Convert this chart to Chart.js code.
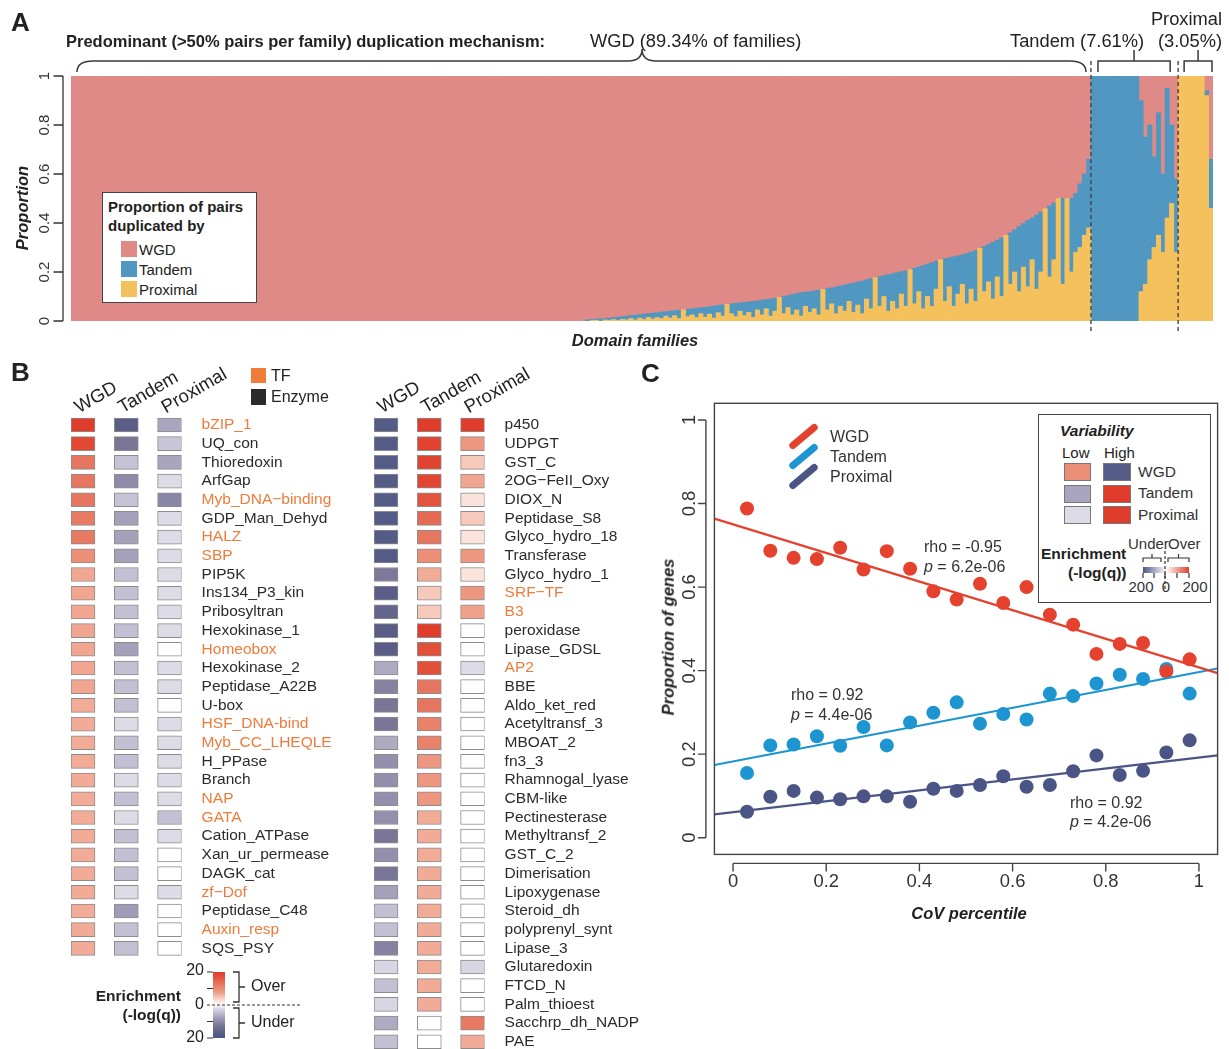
<!DOCTYPE html>
<html lang="en">
<head>
<meta charset="utf-8">
<title>Duplication mechanisms of domain families</title>
<script src="https://cdn.jsdelivr.net/npm/chart.js@4.4.1/dist/chart.umd.min.js"></script>
<style>
  html, body { margin: 0; padding: 0; background: #fff; }
  body { position: relative; width: 1229px; height: 1049px; overflow: hidden;
         font-family: "Liberation Sans", Arial, Helvetica, sans-serif; color: #222; }
  canvas { position: absolute; }
  .txt { position: absolute; white-space: nowrap; line-height: 1; }
  .box { position: absolute; box-sizing: border-box; }
  svg.overlay { position: absolute; left: 0; top: 0; pointer-events: none; }
</style>
</head>
<body>
<canvas id="chartA" width="1229" height="350" style="left:0px;top:0px"></canvas>
<canvas id="heatLeft" width="360" height="648" style="left:0px;top:340px"></canvas>
<canvas id="heatRight" width="380" height="742" style="left:360px;top:340px"></canvas>
<canvas id="chartC" width="589" height="560" style="left:640px;top:380px"></canvas>
<div id="notes"></div>
<svg class="overlay" width="1229" height="1049" fill="none" stroke="#333" stroke-width="1.2">
  <!-- panel B enrichment key -->
  <path d="M207,972H213 M207,988.5H213 M207,1021.5H213 M207,1038H213"/>
  <path d="M233,972H239V1002H233 M239,987H245 M233,1008H239V1038H233 M239,1023H245" stroke-width="1.3"/>
  <path d="M207,1005H300" stroke-dasharray="3,2"/>
  <!-- panel C enrichment key -->
  <path d="M1143,562V558H1161V562 M1152,558V554 M1168,562V558H1189V562 M1178.5,558V554"/>
  <path d="M1143,573V578 M1154,573V578 M1165,573V578 M1177,573V578 M1189,573V578"/>
  <path d="M1165,551V592" stroke-dasharray="3,2"/>
</svg>
<script>
// ---------------- Panel A: share of duplicated pairs per domain family ----------------
const mechanisms = ['WGD', 'Tandem', 'Proximal'];
// families grouped by predominant mechanism (WGD, Tandem, Proximal)
const familiesPerMechanism = [234, 20, 8];
const proportionTicks = [0, 0.2, 0.4, 0.6, 0.8, 1];
const proportionTickLabels = ['0', '0.2', '0.4', '0.6', '0.8', '1'];

const wgdShare = [
  1,1,1,1,1,1,1,1,1,1, 1,1,1,1,1,1,1,1,1,1, 1,1,1,1,1,1,1,1,1,1,
  1,1,1,1,1,1,1,1,1,1, 1,1,1,1,1,1,1,1,1,1, 1,1,1,1,1,1,1,1,1,1,
  1,1,1,1,1,1,1,1,1,1, 1,1,1,1,1,1,1,1,1,1, 1,1,1,1,1,1,1,1,1,1,
  1,1,1,1,1,1,1,1,1,1, 1,1,1,1,1,1,1,1,1,1, 1,1,1,1,1,1,1,1,
  .995,.994,.992,.991,.990,.988,.986,.984,.982,.980,
  .978,.976,.974,.972,.970,.968,.966,.964,.962,.960,
  .958,.956,.954,.952,.950,.948,.946,.944,.942,.939,
  .936,.934,.932,.930,.928,.926,.924,.922,.920,.918,
  .915,.912,.910,.907,.904,.900,.896,.892,.888,.884,
  .882,.880,.877,.874,.871,.868,.865,.861,.857,.853,
  .849,.845,.841,.837,.832,.827,.823,.819,.815,.811,
  .807,.803,.799,.795,.790,.785,.780,.774,.768,.762,
  .756,.750,.746,.742,.738,.734,.730,.725,.719,.712,
  .704,.696,.688,.679,.670,.660,.650,.640,.628,.615,
  .602,.590,.580,.568,.555,.542,.530,.518,.500,.500,
  .500,.500,.480,.440,.400,.340,
  0,0,0,0,0,0,0,0,0,0,0,
  .10,.25,.20,.33,.15,.40,.05,.20,.42,
  0,0,0,0,0,0,.06,.34
];
const tandemShare = [
  0,0,0,0,0,0,0,0,0,0, 0,0,0,0,0,0,0,0,0,0, 0,0,0,0,0,0,0,0,0,0,
  0,0,0,0,0,0,0,0,0,0, 0,0,0,0,0,0,0,0,0,0, 0,0,0,0,0,0,0,0,0,0,
  0,0,0,0,0,0,0,0,0,0, 0,0,0,0,0,0,0,0,0,0, 0,0,0,0,0,0,0,0,0,0,
  0,0,0,0,0,0,0,0,0,0, 0,0,0,0,0,0,0,0,0,0, 0,0,0,0,0,0,0,0,
  .005,.004,.005,.009,.006,.009,.008,.014,.011,.015,
  .012,.020,.014,.022,.015,.024,.020,.026,.018,.028,
  .020,.034,0,.030,.025,.038,.024,.040,.030,.049,
  .030,.046,0,.040,.054,.034,.054,.043,.065,.037,
  .060,.038,.070,.053,0,.070,.049,.083,.067,.096,
  .058,.085,.073,.101,0,.087,.065,.109,.083,.107,
  .071,.120,.094,.133,.078,.123,0,.121,.085,.149,
  .113,.147,.091,.145,0,.145,.100,.176,.132,.178,
  .114,0,.174,.118,.202,.156,.120,.205,.151,.208,
  0,.184,.152,.231,.150,.240,0,.210,.172,.265,
  .178,.270,.170,.302,.245,0,.290,.232,0,.350,
  0,.300,.240,.260,.250,.280,
  1,1,1,1,1,1,1,1,1,1,1,
  .78,.60,.55,.37,.50,.32,.53,.32,.30,
  0,0,0,0,0,0,.02,.20
];
const proximalShare = [
  0,0,0,0,0,0,0,0,0,0, 0,0,0,0,0,0,0,0,0,0, 0,0,0,0,0,0,0,0,0,0,
  0,0,0,0,0,0,0,0,0,0, 0,0,0,0,0,0,0,0,0,0, 0,0,0,0,0,0,0,0,0,0,
  0,0,0,0,0,0,0,0,0,0, 0,0,0,0,0,0,0,0,0,0, 0,0,0,0,0,0,0,0,0,0,
  0,0,0,0,0,0,0,0,0,0, 0,0,0,0,0,0,0,0,0,0, 0,0,0,0,0,0,0,0,
  0,.002,.003,0,.004,.003,.006,.002,.007,.005,
  .010,.004,.012,.006,.015,.008,.014,.010,.020,.012,
  .022,.010,.046,.018,.025,.014,.030,.016,.028,.012,
  .034,.020,.068,.030,.018,.040,.022,.035,.015,.045,
  .025,.050,.020,.040,.096,.030,.055,.025,.045,.020,
  .060,.035,.050,.025,.129,.045,.070,.030,.060,.040,
  .080,.035,.065,.030,.090,.050,.177,.060,.100,.040,
  .080,.050,.110,.060,.210,.070,.120,.050,.100,.060,
  .130,.250,.080,.140,.060,.110,.150,.070,.130,.080,
  .296,.120,.160,.090,.180,.100,.350,.150,.200,.120,
  .220,.140,.250,.130,.200,.458,.180,.250,.500,.150,
  .500,.200,.280,.300,.350,.380,
  0,0,0,0,0,0,0,0,0,0,0,
  .12,.15,.25,.30,.35,.28,.42,.48,.28,
  1,1,1,1,1,1,.92,.46
];

// ---------------- Panel B: enrichment (-log q, signed) per family ----------------
const leftFamilies = ['bZIP_1','UQ_con','Thioredoxin','ArfGap','Myb_DNA\u2212binding','GDP_Man_Dehyd','HALZ','SBP',
  'PIP5K','Ins134_P3_kin','Pribosyltran','Hexokinase_1','Homeobox','Hexokinase_2','Peptidase_A22B','U-box',
  'HSF_DNA-bind','Myb_CC_LHEQLE','H_PPase','Branch','NAP','GATA','Cation_ATPase','Xan_ur_permease','DAGK_cat',
  'zf\u2212Dof','Peptidase_C48','Auxin_resp','SQS_PSY'];
const leftWGD      = [20,18,12.5,12.5,12.5,12,12,9.5,7,7,7,7,7,7,7,6.5,6.5,6.5,6.5,6.5,6.5,6.5,6.5,6.5,6.5,6.5,6.5,6.5,6.5];
const leftTandem   = [-17,-12.5,-4.2,-10,-4.2,-7.5,-7.5,-7.5,-4.5,-4.5,-4.5,-4.5,-7.5,-4.5,-4.5,-4.5,-2,-4.5,-4.5,-2,-4.5,-2,-4.5,-4.5,-4.5,-2,-8,-4.5,-4.5];
const leftProximal = [-7,-4,-7,-2,-10.5,-2,-2,-2,-2,-2,-2,-2,0,-2,-2,0,-2,-2,-2,-2,-2,-4.5,-2,0,0,-2,0,0,0];

const rightFamilies = ['p450','UDPGT','GST_C','2OG\u2212FeII_Oxy','DIOX_N','Peptidase_S8','Glyco_hydro_18','Transferase',
  'Glyco_hydro_1','SRF\u2212TF','B3','peroxidase','Lipase_GDSL','AP2','BBE','Aldo_ket_red','Acetyltransf_3','MBOAT_2',
  'fn3_3','Rhamnogal_lyase','CBM-like','Pectinesterase','Methyltransf_2','GST_C_2','Dimerisation','Lipoxygenase',
  'Steroid_dh','polyprenyl_synt','Lipase_3','Glutaredoxin','FTCD_N','Palm_thioest','Sacchrp_dh_NADP','PAE'];
const rightWGD      = [-18,-18,-18,-18,-18,-18,-18,-18,-12,-17,-15.5,-17,-17,-6.5,-11,-12.5,-12.5,-6.5,-9.5,-9.5,-9.5,-9.5,-12.5,-9.5,-12.5,-7.5,-4.5,-4.5,-11,-2.5,-4.5,-2.5,-6.5,-4.5];
const rightTandem   = [20,19,19,18.5,16.5,14,12.5,9.5,6.5,4.5,4.5,20,17,17,12.5,12.5,11,11,8.5,8.5,8.5,6.5,6.5,6.5,6.5,6.5,6.5,6.5,6.5,6.5,6.5,6.5,0,0];
const rightProximal = [20,8.5,4.5,7,2.5,4.5,2.5,8.5,2.5,8.5,7.5,0,0,-2,0,0,0,0,0,0,0,0,0,0,0,0,0,0,0,-2.5,0,0,12,6.5];

const transcriptionFactors = ['bZIP_1','Myb_DNA\u2212binding','HALZ','SBP','Homeobox','HSF_DNA-bind','Myb_CC_LHEQLE',
  'NAP','GATA','zf\u2212Dof','Auxin_resp','SRF\u2212TF','B3','AP2'];

// ---------------- Panel C: proportion of genes per CoV percentile bin ----------------
const covPercentile = [0.03,0.08,0.13,0.18,0.23,0.28,0.33,0.38,0.43,0.48,0.53,0.58,0.63,0.68,0.73,0.78,0.83,0.88,0.93,0.98];
const wgdProp      = [.788,.687,.670,.667,.694,.642,.686,.644,.590,.570,.608,.562,.600,.534,.510,.440,.464,.466,.398,.427];
const tandemProp   = [.155,.221,.223,.243,.220,.265,.221,.276,.299,.324,.273,.296,.283,.345,.339,.369,.390,.380,.404,.345];
const proximalProp = [.062,.098,.112,.096,.092,.099,.099,.086,.117,.112,.126,.147,.122,.126,.159,.197,.150,.160,.204,.233];
// fitted trend lines, evaluated at the plot's x limits
const fitX = [-0.04, 1.04];
const wgdFit = [0.764, 0.394];
const tandemFit = [0.174, 0.405];
const proximalFit = [0.056, 0.197];
const cTicks = [0, 0.2, 0.4, 0.6, 0.8, 1];
const cTickLabels = ['0', '0.2', '0.4', '0.6', '0.8', '1'];

// ---------------- styling ----------------
const FONT = '"Liberation Sans", Arial, Helvetica, sans-serif';
Chart.defaults.font.family = FONT;
const SHARE_COLORS = { wgd: '#E08A87', tandem: '#5097C1', proximal: '#F4C15C' };
const TREND_COLORS = { wgd: '#E5412F', tandem: '#1C95D0', proximal: '#4A5585' };
const ORANGE = '#EF7B3B';
const overStops  = [[0,'#ffffff'],[0.125,'#fae3da'],[0.225,'#f6c9ba'],[0.325,'#f1ab96'],[0.425,'#ed9780'],[0.625,'#e6765f'],[0.85,'#e2503a'],[1,'#df3c2b']];
const underStops = [[0,'#ffffff'],[0.1,'#dddbe6'],[0.225,'#c4c0d4'],[0.35,'#a9a5be'],[0.5,'#8f8aa9'],[0.625,'#787596'],[0.85,'#595d87'],[1,'#4b5787']];

function hexRgb(h) { return [1,3,5].map(i => parseInt(h.slice(i, i + 2), 16)); }
function enrichColor(v) {
  const stops = v >= 0 ? overStops : underStops;
  const t = Math.min(Math.abs(v) / 20, 1);
  for (let i = 1; i < stops.length; i++) {
    if (t <= stops[i][0]) {
      const [t0, c0] = stops[i - 1], [t1, c1] = stops[i];
      const f = (t - t0) / (t1 - t0);
      const a = hexRgb(c0), b = hexRgb(c1);
      return 'rgb(' + a.map((c, k) => Math.round(c + (b[k] - c) * f)).join(',') + ')';
    }
  }
  return stops[stops.length - 1][1];
}

// ---------------- Panel A chart ----------------
function brace(ctx, x0, x1, tipX, yLine, yEnd, yTip) {
  const r = 16, rt = 14;
  ctx.beginPath();
  ctx.moveTo(x0, yEnd);
  ctx.quadraticCurveTo(x0, yLine, x0 + r, yLine);
  ctx.lineTo(tipX - rt, yLine);
  ctx.quadraticCurveTo(tipX, yLine, tipX, yTip);
  ctx.quadraticCurveTo(tipX, yLine, tipX + rt, yLine);
  ctx.lineTo(x1 - r, yLine);
  ctx.quadraticCurveTo(x1, yLine, x1, yEnd);
  ctx.stroke();
}
function bracket(ctx, x0, x1, yLine, yEnd, yTip) {
  const mid = (x0 + x1) / 2;
  ctx.beginPath();
  ctx.moveTo(x0, yEnd); ctx.lineTo(x0, yLine); ctx.lineTo(x1, yLine); ctx.lineTo(x1, yEnd);
  ctx.moveTo(mid, yLine); ctx.lineTo(mid, yTip);
  ctx.stroke();
}

const panelAFrame = {
  id: 'panelAFrame',
  afterDraw(chart) {
    const { ctx, chartArea: a, scales: { x, y } } = chart;
    const barW = (a.right - a.left) / chart.data.labels.length;
    ctx.save();
    // y axis, drawn a little off the bars
    const ax = a.left - 8;
    ctx.strokeStyle = '#333'; ctx.lineWidth = 1.3;
    ctx.beginPath();
    ctx.moveTo(ax, y.getPixelForValue(proportionTicks[0]));
    ctx.lineTo(ax, y.getPixelForValue(proportionTicks[proportionTicks.length - 1]));
    y.ticks.forEach(t => { const py = y.getPixelForValue(t.value); ctx.moveTo(ax, py); ctx.lineTo(ax - 9.5, py); });
    ctx.stroke();
    ctx.fillStyle = '#333'; ctx.font = '15px ' + FONT; ctx.textAlign = 'center'; ctx.textBaseline = 'middle';
    y.ticks.forEach((t, i) => {
      ctx.save(); ctx.translate(ax - 18.5, y.getPixelForValue(t.value)); ctx.rotate(-Math.PI / 2);
      ctx.fillText(proportionTickLabels[i], 0, 0); ctx.restore();
    });
    // group edges along the family axis
    const edges = [x.getPixelForValue(0) - barW / 2];
    let n = 0;
    familiesPerMechanism.forEach(c => { n += c; edges.push(x.getPixelForValue(n - 1) + barW / 2); });
    ctx.setLineDash([4, 3]); ctx.strokeStyle = '#444'; ctx.lineWidth = 1.4;
    ctx.beginPath();
    [edges[1], edges[2]].forEach(px => { ctx.moveTo(px, 61); ctx.lineTo(px, 333); });
    ctx.stroke();
    ctx.setLineDash([]);
    ctx.strokeStyle = '#3a3a3a'; ctx.lineWidth = 1.5;
    const b0 = edges[0] + 6, b1 = edges[1] - 5;
    brace(ctx, b0, b1, b0 + 0.56 * (b1 - b0), 61, 72, 49);
    bracket(ctx, edges[1] + 7, edges[2] - 8, 61, 72, 50);
    bracket(ctx, edges[2] + 6, edges[3] - 1, 61, 72, 50);
    ctx.restore();
  }
};

new Chart(document.getElementById('chartA'), {
  type: 'bar',
  data: {
    labels: wgdShare.map((_, i) => i + 1),
    datasets: [
      { label: 'Proximal', data: proximalShare, backgroundColor: SHARE_COLORS.proximal },
      { label: 'Tandem', data: tandemShare, backgroundColor: SHARE_COLORS.tandem },
      { label: 'WGD', data: wgdShare, backgroundColor: SHARE_COLORS.wgd }
    ]
  },
  options: {
    responsive: false, animation: false,
    layout: { padding: { left: 71, right: 16, top: 76, bottom: 29 } },
    datasets: { bar: { barPercentage: 1, categoryPercentage: 1, borderWidth: 0,
                       inflateAmount: c => (c.raw ? 0.35 : 0) } },
    plugins: { legend: { display: false }, tooltip: { enabled: false } },
    scales: {
      x: { stacked: true, display: false },
      y: { stacked: true, display: false, min: 0, max: 1,
           afterBuildTicks: s => { s.ticks = proportionTicks.map(v => ({ value: v })); } }
    }
  },
  plugins: [panelAFrame]
});

// ---------------- Panel B heatmaps ----------------
const CELL_W = 24 / 43.3;   // cell width in column units
function heatmap(canvasId, families, columns, padLeft, yAxisWidth, padBottom) {
  new Chart(document.getElementById(canvasId), {
    type: 'bar',
    data: {
      labels: families,
      datasets: columns.map((vals, k) => ({
        label: mechanisms[k],
        data: vals.map(() => [k, k + CELL_W]),
        backgroundColor: vals.map(enrichColor),
        borderColor: '#8c8c8c', borderWidth: 1, borderSkipped: false,
        barThickness: 14, grouped: false
      }))
    },
    options: {
      indexAxis: 'y', responsive: false, animation: false,
      layout: { padding: { left: padLeft, right: 0, top: 0, bottom: padBottom } },
      plugins: { legend: { display: false }, tooltip: { enabled: false } },
      scales: {
        x: {
          type: 'linear', position: 'top', min: 0, max: 2 + CELL_W,
          grid: { display: false, drawTicks: false }, border: { display: false },
          afterBuildTicks: s => { s.ticks = mechanisms.map((m, k) => ({ value: k + 0.385 })); },
          ticks: { callback: (v, i) => mechanisms[i], minRotation: 30, maxRotation: 30, autoSkip: false,
                   padding: -3, color: '#222', font: { size: 18.5 } },
          afterFit: s => { s.height = 75.65; }
        },
        y: {
          type: 'category', position: 'right', offset: true,
          grid: { display: false, drawTicks: false }, border: { display: false },
          ticks: { autoSkip: false, padding: 20, font: { size: 15.5 },
                   color: c => (transcriptionFactors.includes(families[c.index]) ? ORANGE : '#2b2b2b') },
          afterFit: s => { s.width = yAxisWidth; }
        }
      }
    }
  });
}
heatmap('heatLeft', leftFamilies, [leftWGD, leftTandem, leftProximal], 71, 360 - 181.6, 648 - 617.7);
heatmap('heatRight', rightFamilies, [rightWGD, rightTandem, rightProximal], 14, 740 - 484.6, 742 - 711.1);

// ---------------- Panel C chart ----------------
const panelCFrame = {
  id: 'panelCFrame',
  afterDraw(chart) {
    const { ctx, chartArea: a, scales: { x, y } } = chart;
    ctx.save();
    ctx.strokeStyle = '#444'; ctx.lineWidth = 1.4;
    ctx.strokeRect(a.left, a.top, a.right - a.left, a.bottom - a.top);
    const ax = a.left - 8.5, ay = a.bottom + 9;
    ctx.beginPath();
    ctx.moveTo(ax, y.getPixelForValue(cTicks[0])); ctx.lineTo(ax, y.getPixelForValue(cTicks[cTicks.length - 1]));
    y.ticks.forEach(t => { const py = y.getPixelForValue(t.value); ctx.moveTo(ax, py); ctx.lineTo(ax - 8, py); });
    ctx.moveTo(x.getPixelForValue(cTicks[0]), ay); ctx.lineTo(x.getPixelForValue(cTicks[cTicks.length - 1]), ay);
    x.ticks.forEach(t => { const px = x.getPixelForValue(t.value); ctx.moveTo(px, ay); ctx.lineTo(px, ay + 8); });
    ctx.stroke();
    ctx.fillStyle = '#333'; ctx.font = '18.4px ' + FONT; ctx.textAlign = 'center'; ctx.textBaseline = 'middle';
    y.ticks.forEach((t, i) => {
      ctx.save(); ctx.translate(ax - 16, y.getPixelForValue(t.value)); ctx.rotate(-Math.PI / 2);
      ctx.fillText(cTickLabels[i], 0, 0); ctx.restore();
    });
    x.ticks.forEach((t, i) => ctx.fillText(cTickLabels[i], x.getPixelForValue(t.value), ay + 19));
    ctx.restore();
  }
};
const pts = ys => covPercentile.map((x, i) => ({ x, y: ys[i] }));
const fitLine = ys => fitX.map((x, i) => ({ x, y: ys[i] }));
new Chart(document.getElementById('chartC'), {
  type: 'scatter',
  data: {
    datasets: [
      { type: 'line', data: fitLine(wgdFit), borderColor: TREND_COLORS.wgd, borderWidth: 2.2, pointRadius: 0, order: 1 },
      { type: 'line', data: fitLine(tandemFit), borderColor: TREND_COLORS.tandem, borderWidth: 2.2, pointRadius: 0, order: 1 },
      { type: 'line', data: fitLine(proximalFit), borderColor: TREND_COLORS.proximal, borderWidth: 2.2, pointRadius: 0, order: 1 },
      { label: 'WGD', data: pts(wgdProp), backgroundColor: TREND_COLORS.wgd, pointRadius: 7, borderWidth: 0, order: 2 },
      { label: 'Tandem', data: pts(tandemProp), backgroundColor: TREND_COLORS.tandem, pointRadius: 7, borderWidth: 0, order: 2 },
      { label: 'Proximal', data: pts(proximalProp), backgroundColor: TREND_COLORS.proximal, pointRadius: 7, borderWidth: 0, order: 2 }
    ]
  },
  options: {
    responsive: false, animation: false,
    layout: { padding: { left: 74.4, right: 11.4, top: 23.3, bottom: 85.6 } },
    plugins: { legend: { display: false }, tooltip: { enabled: false } },
    scales: {
      x: { type: 'linear', display: false, min: -0.04, max: 1.04,
           afterBuildTicks: s => { s.ticks = cTicks.map(v => ({ value: v })); } },
      y: { type: 'linear', display: false, min: -0.04, max: 1.04,
           afterBuildTicks: s => { s.ticks = cTicks.map(v => ({ value: v })); } }
    }
  },
  plugins: [panelCFrame]
});

// ---------------- text and keys ----------------
const notes = document.getElementById('notes');
function text(str, x, cy, o = {}) {
  const d = document.createElement('div');
  d.className = 'txt';
  if (o.html) d.innerHTML = str; else d.textContent = str;
  d.style.left = x + 'px'; d.style.top = cy + 'px';
  d.style.fontSize = (o.size || 15) + 'px';
  if (o.bold) d.style.fontWeight = 'bold';
  if (o.italic) d.style.fontStyle = 'italic';
  d.style.color = o.color || '#222';
  const tx = o.align === 'center' ? '-50%' : o.align === 'right' ? '-100%' : '0';
  d.style.transform = 'translate(' + tx + ',-50%)' + (o.rotate ? ' rotate(' + o.rotate + 'deg)' : '');
  notes.appendChild(d);
  return d;
}
function rect(x, y, w, h, style) {
  const d = document.createElement('div');
  d.className = 'box';
  Object.assign(d.style, { left: x + 'px', top: y + 'px', width: w + 'px', height: h + 'px' }, style);
  notes.appendChild(d);
  return d;
}

// panel A
text('A', 11, 22, { size: 26, bold: true });
text('Predominant (>50% pairs per family) duplication mechanism:', 66, 41, { size: 16.5, bold: true });
text('WGD (89.34% of families)', 590, 41, { size: 18.3 });
text('Tandem (7.61%)', 1010, 41, { size: 18.3 });
text('(3.05%)', 1222, 41, { size: 18.3, align: 'right' });
text('Proximal', 1222, 19, { size: 18.3, align: 'right' });
text('Domain families', 635, 340, { size: 16.5, bold: true, italic: true, align: 'center' });
text('Proportion', 22, 208, { size: 16.5, bold: true, italic: true, align: 'center', rotate: -90 });
rect(102, 192, 155, 111, { border: '1.5px solid #444', background: '#fff' });
text('Proportion of pairs', 108, 206, { size: 15, bold: true });
text('duplicated by', 108, 225, { size: 15, bold: true });
[['WGD', SHARE_COLORS.wgd], ['Tandem', SHARE_COLORS.tandem], ['Proximal', SHARE_COLORS.proximal]].forEach(([m, c], i) => {
  rect(121, 241 + 20 * i, 16, 16, { background: c });
  text(m, 139, 249 + 20 * i, { size: 15 });
});

// panel B
text('B', 11, 372, { size: 26, bold: true });
rect(251, 368, 15, 15, { background: '#F07D37' });
text('TF', 271, 376, { size: 16 });
rect(251, 389, 15, 16, { background: '#2b2b2b' });
text('Enzyme', 271, 397, { size: 16 });
text('Enrichment', 181, 996, { size: 15.5, bold: true, align: 'right' });
text('(-log(q))', 181, 1015, { size: 15.5, bold: true, align: 'right' });
const barStops = overStops.slice().reverse().map(([t, c]) => c + ' ' + ((1 - t) * 50).toFixed(1) + '%')
  .concat(underStops.map(([t, c]) => c + ' ' + (50 + t * 50).toFixed(1) + '%'));
rect(213, 972, 12, 66, { background: 'linear-gradient(to bottom,' + barStops.join(',') + ')' });
text('20', 204, 970, { size: 16, align: 'right' });
text('0', 204, 1004, { size: 16, align: 'right' });
text('20', 204, 1037, { size: 16, align: 'right' });
text('Over', 251, 986, { size: 16 });
text('Under', 251, 1022, { size: 16 });

// panel C
text('C', 641, 373, { size: 26, bold: true });
text('Proportion of genes', 668, 637, { size: 16.5, bold: true, italic: true, align: 'center', rotate: -90 });
text('CoV percentile', 969, 913, { size: 16.5, bold: true, italic: true, align: 'center' });
[['WGD', TREND_COLORS.wgd], ['Tandem', TREND_COLORS.tandem], ['Proximal', TREND_COLORS.proximal]].forEach(([m, c], i) => {
  rect(803 - 17.5, 436 + 20 * i - 3.5, 35, 7, { background: c, borderRadius: '3.5px', transform: 'rotate(-40deg)' });
  text(m, 830, 437 + 20 * i, { size: 16, color: '#333' });
});
text('rho = -0.95', 924, 547, { size: 16, color: '#333' });
text('<i>p</i> = 6.2e-06', 924, 567, { size: 16, color: '#333', html: true });
text('rho = 0.92', 791, 695, { size: 16, color: '#333' });
text('<i>p</i> = 4.4e-06', 791, 715, { size: 16, color: '#333', html: true });
text('rho = 0.92', 1070, 803, { size: 16, color: '#333' });
text('<i>p</i> = 4.2e-06', 1070, 822, { size: 16, color: '#333', html: true });

rect(1038, 414, 173, 189, { border: '1.5px solid #444', background: '#fff' });
text('Variability', 1060, 431, { size: 15.5, bold: true, italic: true });
text('Low', 1062, 452, { size: 15 });
text('High', 1104, 452, { size: 15 });
const lowColors = [enrichColor(9.5), enrichColor(-7), enrichColor(-2)];
const highColors = [enrichColor(-18), enrichColor(20), enrichColor(20)];
mechanisms.forEach((m, i) => {
  rect(1064, 463 + 21.5 * i, 27, 18, { background: lowColors[i], border: '1px solid #777' });
  rect(1103, 463 + 21.5 * i, 28, 18, { background: highColors[i], border: '1px solid #777' });
  text(m, 1138, 472 + 21.3 * i, { size: 15.5, color: '#333' });
});
text('Enrichment', 1041, 554, { size: 15.5, bold: true });
text('(-log(q))', 1068, 573, { size: 15.5, bold: true });
text('Under', 1128, 543, { size: 15, color: '#333' });
text('Over', 1168, 543, { size: 15, color: '#333' });
rect(1143, 567, 46, 6, { background: 'linear-gradient(to right,#4b5787,#ffffff 50%,#df3c2b)' });
text('200', 1141, 586, { size: 15, color: '#333', align: 'center' });
text('0', 1166, 586, { size: 15, color: '#333', align: 'center' });
text('200', 1195, 586, { size: 15, color: '#333', align: 'center' });
</script>
</body>
</html>
